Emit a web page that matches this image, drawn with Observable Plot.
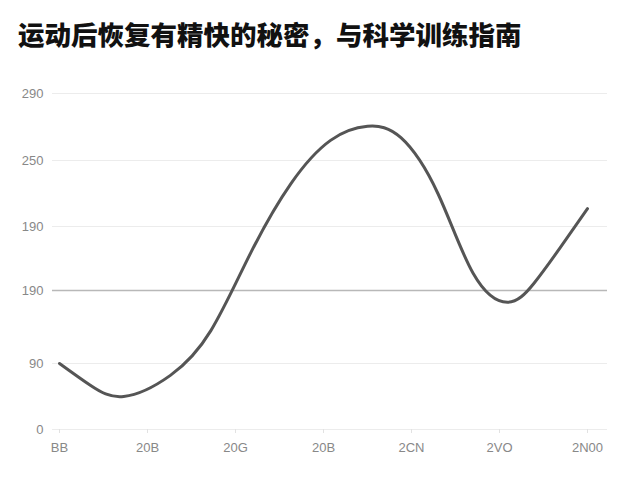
<!DOCTYPE html>
<html>
<head>
<meta charset="utf-8">
<script src="https://cdn.jsdelivr.net/npm/d3@7"></script>
<script src="https://cdn.jsdelivr.net/npm/@observablehq/plot@0.6"></script>
<style>
  html, body { margin: 0; padding: 0; background: #fff; }
  #title {
    height: 70px; box-sizing: border-box; padding: 21px 0 0 18px;
    font-family: "Noto Sans CJK SC", sans-serif; font-weight: 900;
    font-size: 26.5px; line-height: 26px; color: #111; white-space: nowrap;
  }
</style>
</head>
<body>
<div id="title">运动后恢复有精快的秘密，与科学训练指南</div>
<div id="chart"></div>
<script>
// Tick labels (as printed in the reference)
const xLabels = ["BB", "20B", "20G", "20B", "2CN", "2VO", "2N00"];
const yLabels = ["0", "90", "190", "190", "250", "290"];
// Series (x in category-tick units, y in y-tick units)
const seriesX = [0, 0.35, 0.73, 1.26, 1.72, 2.17, 2.63, 3.08, 3.50, 3.88, 4.30, 4.70, 5.09, 5.39, 5.69, 6.0];
const seriesY = [1.0, 0.67, 0.50, 0.82, 1.45, 2.58, 3.65, 4.30, 4.51, 4.34, 3.5, 2.27, 1.84, 2.11, 2.67, 3.27];
const referenceLevel = 2;

const data = seriesX.map((x, i) => ({x, y: seriesY[i]}));
const xIdx = d3.range(xLabels.length);
const yIdx = d3.range(yLabels.length);

const chart = Plot.plot({
  width: 640,
  height: 410,
  marginTop: 23,
  marginBottom: 51,
  marginLeft: 52,
  marginRight: 33,
  style: {fontFamily: "'Liberation Sans', Arial, sans-serif", fontSize: "13px", background: "#fff"},
  x: {type: "linear", domain: [0, 6], insetLeft: 7, insetRight: 20},
  y: {type: "linear", domain: yIdx, range: [359, 293, 220, 156, 90, 23]},
  marks: [
    Plot.ruleY(yIdx, {stroke: "#ececec", strokeWidth: 1}),
    Plot.ruleY([referenceLevel], {stroke: "#b8b8b8", strokeWidth: 1.6}),
    Plot.axisY(yIdx, {tickFormat: i => yLabels[i], tickSize: 0, tickPadding: 9, fill: "#888", fontSize: 13, label: null}),
    Plot.axisX(xIdx, {tickFormat: i => xLabels[i], tickSize: 4, tickPadding: 9, stroke: "#e2e2e2", fill: "#888", fontSize: 13, label: null}),
    Plot.line(data, {x: "x", y: "y", curve: "natural", stroke: "#555", strokeWidth: 3, strokeLinecap: "round"})
  ]
});
document.getElementById("chart").appendChild(chart);
</script>
</body>
</html>
